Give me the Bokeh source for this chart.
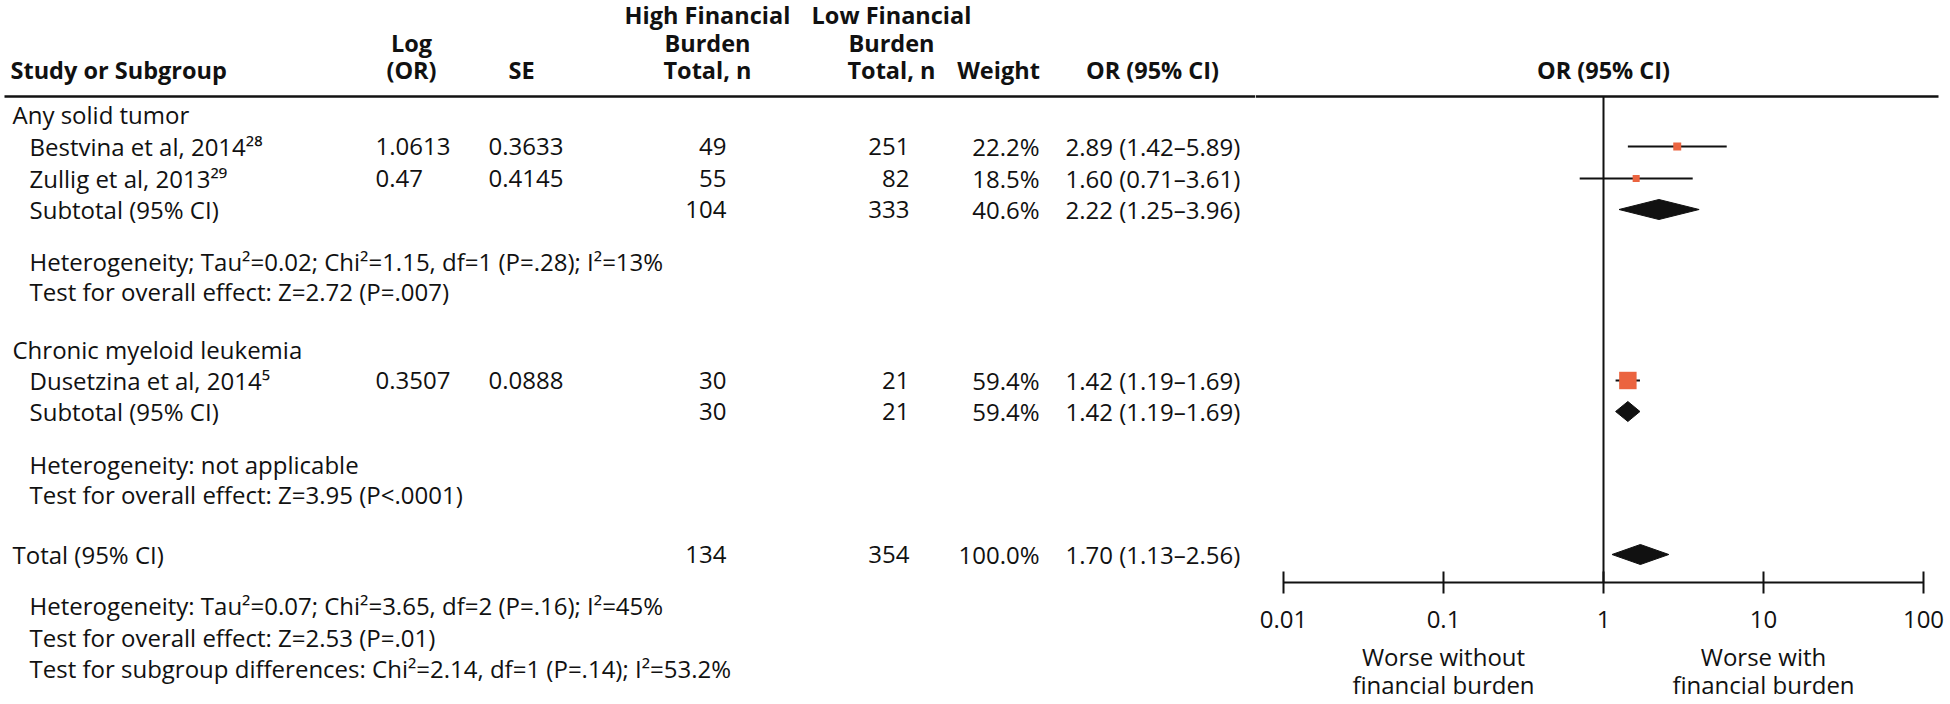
import math
from bokeh.plotting import figure
from bokeh.layouts import row
from bokeh.models import Range1d, FixedTicker, CustomJSTickFormatter
from bokeh.core.properties import value
from bokeh.embed import file_html
from bokeh.resources import INLINE

# ---------------- data ----------------
header_study = "Study or Subgroup"
header_logor = ["Log", "(OR)"]
header_se = "SE"
header_high = ["High Financial", "Burden", "Total, n"]
header_low = ["Low Financial", "Burden", "Total, n"]
header_weight = "Weight"
header_ci = "OR (95% CI)"
header_plot = "OR (95% CI)"

group_names = ["Any solid tumor", "Chronic myeloid leukemia"]
study_names = ["Bestvina et al, 2014²⁸", "Zullig et al, 2013²⁹", "Dusetzina et al, 2014⁵"]
study_log_or = ["1.0613", "0.47", "0.3507"]
study_se = ["0.3633", "0.4145", "0.0888"]
study_high_n = [49, 55, 30]
study_low_n = [251, 82, 21]
study_weight = [22.2, 18.5, 59.4]
study_or = [2.89, 1.60, 1.42]
study_lo = [1.42, 0.71, 1.19]
study_hi = [5.89, 3.61, 1.69]

subtotal_label = "Subtotal (95% CI)"
subtotal_high_n = [104, 30]
subtotal_low_n = [333, 21]
subtotal_weight = [40.6, 59.4]
subtotal_or = [2.22, 1.42]
subtotal_lo = [1.25, 1.19]
subtotal_hi = [3.96, 1.69]
subtotal_notes = [
    ["Heterogeneity; Tau²=0.02; Chi²=1.15, df=1 (P=.28); I²=13%",
     "Test for overall effect: Z=2.72 (P=.007)"],
    ["Heterogeneity: not applicable",
     "Test for overall effect: Z=3.95 (P<.0001)"],
]

total_label = "Total (95% CI)"
total_high_n = [134]
total_low_n = [354]
total_weight = [100.0]
total_or = [1.70]
total_lo = [1.13]
total_hi = [2.56]
total_notes = [
    "Heterogeneity: Tau²=0.07; Chi²=3.65, df=2 (P=.16); I²=45%",
    "Test for overall effect: Z=2.53 (P=.01)",
    "Test for subgroup differences: Chi²=2.14, df=1 (P=.14); I²=53.2%",
]

axis_ticks = [0.01, 0.1, 1, 10, 100]
favours_at = [0.1, 10]
favours_line1 = ["Worse without", "Worse with"]
favours_line2 = ["financial burden", "financial burden"]

# ---------------- layout (reference pixel positions) ----------------
W, H = 1948, 702

HEAD_Y = [14, 42, 69]
RULE_Y = 96
GROUP_Y = [114, 349]
STUDY_Y = [146, 178, 380]
SUB_Y = [209, 411]
NOTES_Y = [[261, 291], [464, 494]]
TOTAL_Y = 554
TOTAL_NOTES_Y = [605, 637, 668]
AXIS_Y = 582
FAV_Y = [656, 684]

X_STUDY_HEAD, X_GROUP, X_INDENT = 10, 12, 29
X_LOGOR, X_LOGOR_HEAD = 375, 411
X_SE, X_SE_HEAD = 488, 521
X_HIGH, X_HIGH_HEAD = 726, 707
X_LOW, X_LOW_HEAD = 909, 891
X_WEIGHT, X_WEIGHT_HEAD = 1039, 998
X_CI, X_CI_HEAD = 1065, 1152
RULE_X0, RULE_X1 = 4, 1938
X_T001, X_T100 = 1283, 1923
SPLIT = 1255

FONT = "Open Sans"
FS = "24px"
FS_HEAD = "23.5px"
INK = "#111111"
ORANGE = "#EB6440"

WT = SPLIT
WF = W - WT

# ---------------- table figure ----------------
t = figure(width=WT, height=H, x_range=Range1d(0, WT), y_range=Range1d(H, 0),
           x_axis_location=None, y_axis_location=None, toolbar_location=None,
           output_backend="svg", min_border=0, outline_line_color=None)
t.grid.visible = False


def add_text(p, xs, ys, texts, align, bold=False):
    p.text(x=xs, y=ys, text=texts, text_align=align, text_baseline="middle",
           text_font=value(FONT), text_font_size=FS_HEAD if bold else FS,
           text_color=INK, text_font_style="bold" if bold else "normal")


def fmt_ci(o, lo, hi):
    return f"{o:.2f} ({lo:.2f}\u2013{hi:.2f})"


# headers
add_text(t, [X_STUDY_HEAD], [HEAD_Y[2]], [header_study], "left", bold=True)
add_text(t, [X_LOGOR_HEAD] * 2, HEAD_Y[1:], header_logor, "center", bold=True)
add_text(t, [X_SE_HEAD], [HEAD_Y[2]], [header_se], "center", bold=True)
add_text(t, [X_HIGH_HEAD] * 3, HEAD_Y, header_high, "center", bold=True)
add_text(t, [X_LOW_HEAD] * 3, HEAD_Y, header_low, "center", bold=True)
add_text(t, [X_WEIGHT_HEAD], [HEAD_Y[2]], [header_weight], "center", bold=True)
add_text(t, [X_CI_HEAD], [HEAD_Y[2]], [header_ci], "center", bold=True)
t.segment(x0=[RULE_X0], x1=[WT], y0=[RULE_Y], y1=[RULE_Y], line_color=INK, line_width=2.5)

# group names and total label
add_text(t, [X_GROUP] * 3, [GROUP_Y[0], GROUP_Y[1], TOTAL_Y], group_names + [total_label], "left")

# study rows
add_text(t, [X_INDENT] * 3, STUDY_Y, study_names, "left")
add_text(t, [X_LOGOR] * 3, STUDY_Y, study_log_or, "left")
add_text(t, [X_SE] * 3, STUDY_Y, study_se, "left")

# numeric rows: studies, subtotals, total
num_y = STUDY_Y + SUB_Y + [TOTAL_Y]
high_all = study_high_n + subtotal_high_n + total_high_n
low_all = study_low_n + subtotal_low_n + total_low_n
w_all = study_weight + subtotal_weight + total_weight
ci_all = [fmt_ci(o, l, h) for o, l, h in zip(study_or + subtotal_or + total_or,
                                              study_lo + subtotal_lo + total_lo,
                                              study_hi + subtotal_hi + total_hi)]
n = len(num_y)
add_text(t, [X_HIGH] * n, num_y, [str(v) for v in high_all], "right")
add_text(t, [X_LOW] * n, num_y, [str(v) for v in low_all], "right")
add_text(t, [X_WEIGHT] * n, num_y, [f"{v:.1f}%" for v in w_all], "right")
add_text(t, [X_CI] * n, num_y, ci_all, "left")

# subtotal labels and notes
add_text(t, [X_INDENT] * 2, SUB_Y, [subtotal_label] * 2, "left")
note_txt, note_y = [], []
for g in range(2):
    for k in range(2):
        note_txt.append(subtotal_notes[g][k])
        note_y.append(NOTES_Y[g][k])
for k in range(3):
    note_txt.append(total_notes[k])
    note_y.append(TOTAL_NOTES_Y[k])
add_text(t, [X_INDENT] * len(note_txt), note_y, note_txt, "left")

# ---------------- forest figure ----------------
u001 = X_T001 - WT
u100 = X_T100 - WT
dec = (u100 - u001) / 4.0


def ref_to_or(xref):
    return 10 ** (-2 + ((xref - WT) - u001) / dec)


x_start = ref_to_or(WT)
x_end = ref_to_or(W)

f = figure(width=WF, height=H, x_axis_type="log", x_range=Range1d(x_start, x_end),
           y_range=Range1d(H, 0), y_axis_location=None, toolbar_location=None,
           output_backend="svg", min_border=0, outline_line_color=None)
f.grid.visible = False

ax = f.xaxis[0]
ax.fixed_location = AXIS_Y
ax.ticker = FixedTicker(ticks=axis_ticks, minor_ticks=[])
ax.formatter = CustomJSTickFormatter(code="return String(tick)")
ax.bounds = (axis_ticks[0], axis_ticks[-1])
ax.major_tick_in = 11
ax.major_tick_out = 11
ax.minor_tick_in = 0
ax.minor_tick_out = 0
ax.axis_line_width = 2
ax.axis_line_color = INK
ax.major_tick_line_width = 2
ax.major_tick_line_color = INK
ax.major_label_text_font = FONT
ax.major_label_text_font_size = FS
ax.major_label_text_color = INK
ax.major_label_standoff = 17

# header + rule + null line
add_text(f, [1.0], [HEAD_Y[2]], [header_plot], "center", bold=True)
f.segment(x0=[x_start], x1=[ref_to_or(RULE_X1)], y0=[RULE_Y], y1=[RULE_Y],
          line_color=INK, line_width=2.5)
f.segment(x0=[1.0], x1=[1.0], y0=[RULE_Y], y1=[AXIS_Y], line_color=INK, line_width=2)

# study CIs and squares
f.segment(x0=study_lo, x1=study_hi, y0=STUDY_Y, y1=STUDY_Y, line_color=INK, line_width=2)
f.scatter(x=study_or, y=STUDY_Y, marker="square", size=[2.3 + 0.255 * w for w in study_weight],
          fill_color=ORANGE, line_color=None)

# diamonds: subtotals and total
d_or = subtotal_or + total_or
d_lo = subtotal_lo + total_lo
d_hi = subtotal_hi + total_hi
d_y = SUB_Y + [TOTAL_Y]
hh = 10
f.patches(xs=[[lo, o, hi, o] for o, lo, hi in zip(d_or, d_lo, d_hi)],
          ys=[[y, y - hh, y, y + hh] for y in d_y],
          fill_color=INK, line_color=INK, line_width=1)

# favours labels
add_text(f, favours_at, [FAV_Y[0]] * 2, favours_line1, "center")
add_text(f, favours_at, [FAV_Y[1]] * 2, favours_line2, "center")

layout = row(t, f, spacing=0)
open("out.html", "w").write(file_html(layout, INLINE))
